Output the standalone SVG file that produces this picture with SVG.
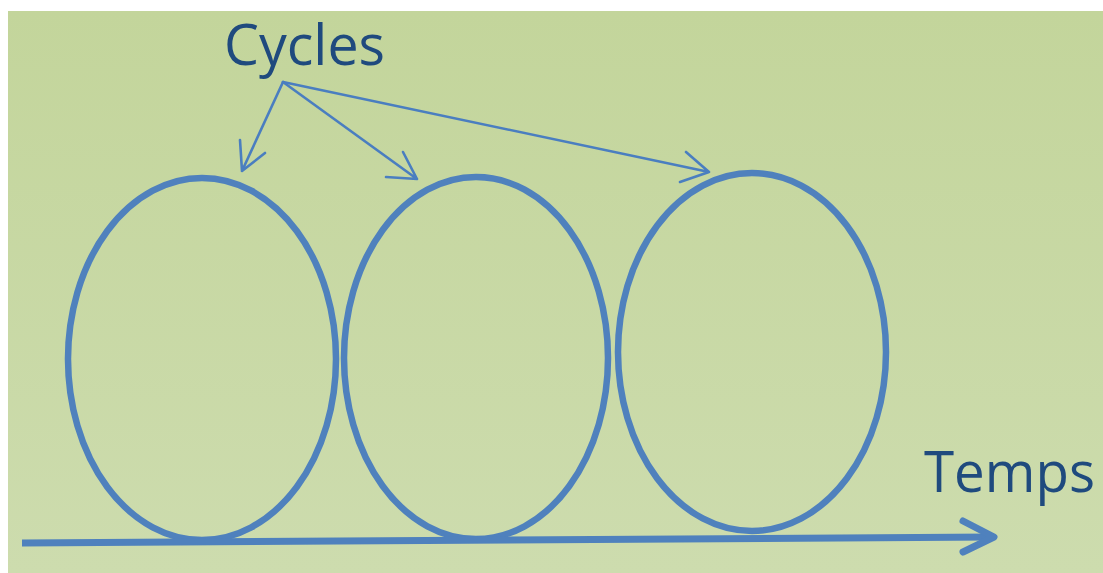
<svg xmlns="http://www.w3.org/2000/svg" width="1103" height="573" viewBox="0 0 1103 573">
  <defs>
    <linearGradient id="bg" x1="0" y1="0" x2="0" y2="1">
      <stop offset="0" stop-color="#c3d59b"/>
      <stop offset="1" stop-color="#cddcae"/>
    </linearGradient>
  </defs>
  <style>
    .cycle { fill: none; stroke: #4f81bd; stroke-width: 6.5; }
    .thin { fill: none; stroke: #4a7ec0; stroke-width: 2.6; stroke-linecap: round; stroke-linejoin: round; }
    .axis { fill: none; stroke: #4f81bd; stroke-width: 7; stroke-linejoin: round; }
    .label { font-family: "Open Sans", "Liberation Sans", sans-serif; font-size: 56px; fill: #1f4a7e; }
  </style>
  <rect x="0" y="0" width="1103" height="573" fill="#ffffff"/>
  <rect x="8" y="11" width="1095" height="562" fill="url(#bg)"/>

  <g id="cycle1"><ellipse class="cycle" cx="202" cy="359" rx="134" ry="181"/></g>
  <g id="cycle2"><ellipse class="cycle" cx="476" cy="358" rx="132" ry="181"/></g>
  <g id="cycle3"><ellipse class="cycle" cx="752" cy="352" rx="134" ry="179"/></g>

  <g id="label-cycles"><text class="label" x="224" y="65" textLength="161" lengthAdjust="spacingAndGlyphs">Cycles</text></g>
  <g id="label-temps"><text class="label" x="924" y="492" textLength="171" lengthAdjust="spacingAndGlyphs">Temps</text></g>

  <g id="connectors">
    <path class="thin" d="M283,82 L242,171 M240,140 L242,171 L265,153"/>
    <path class="thin" d="M283,82 L417,179 M403,152 L417,179 L386,177"/>
    <path class="thin" d="M283,82 L709,172 M686,152 L709,172 L680,182"/>
    <path class="axis" d="M22,543 L993,537" stroke-linecap="butt"/>
    <path class="axis" d="M963,521 L994,537 L963,552" stroke-linecap="round"/>
  </g>
</svg>
